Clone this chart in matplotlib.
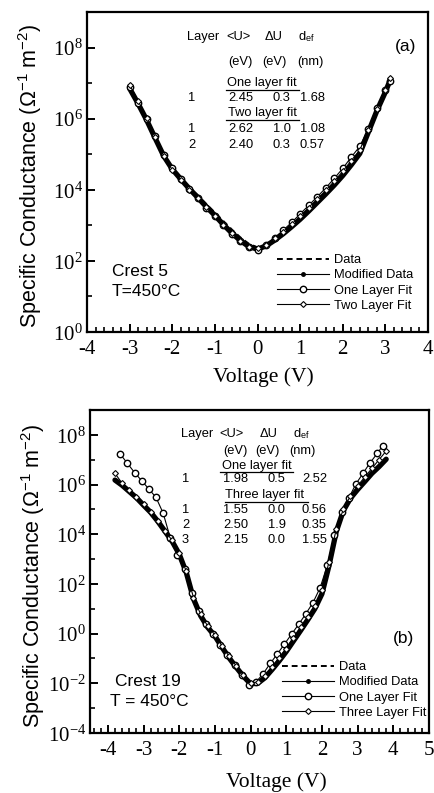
import numpy as np
import matplotlib
matplotlib.use("Agg")
import matplotlib.pyplot as plt
from matplotlib.lines import Line2D
from matplotlib.ticker import MultipleLocator, LogLocator, NullFormatter

plt.rcParams['font.family'] = ['Liberation Sans', 'DejaVu Sans']
plt.rcParams['mathtext.fontset'] = 'custom'
plt.rcParams['mathtext.rm'] = 'Liberation Serif'
plt.rcParams['mathtext.sf'] = 'Liberation Sans'
plt.rcParams['mathtext.it'] = 'Liberation Serif:italic'
plt.rcParams['axes.unicode_minus'] = False

# ---- panel (a): Crest 5, log10 of conductance
v_a = [-3.0, -2.8, -2.6, -2.4, -2.2, -2.0, -1.8, -1.6, -1.4, -1.2, -1.0, -0.8, -0.6, -0.4, -0.2, 0.0,
       0.2, 0.4, 0.6, 0.8, 1.0, 1.2, 1.4, 1.6, 1.8, 2.0, 2.2, 2.4, 2.6, 2.8, 3.0, 3.1]
mod_a = [6.85, 6.42, 5.96, 5.45, 4.95, 4.58, 4.30, 4.03, 3.78, 3.52, 3.28, 3.02, 2.78, 2.57, 2.40, 2.33,
         2.42, 2.58, 2.76, 2.96, 3.17, 3.40, 3.64, 3.88, 4.13, 4.40, 4.70, 5.02, 5.62, 6.22, 6.75, 7.05]
data_a = [6.90, 6.45, 5.98, 5.47, 4.98, 4.62, 4.34, 4.08, 3.84, 3.60, 3.36, 3.12, 2.88, 2.66, 2.48, 2.38,
          2.45, 2.60, 2.78, 2.98, 3.18, 3.40, 3.63, 3.87, 4.12, 4.40, 4.70, 5.03, 5.63, 6.22, 6.78, 7.08]
fit1_a = [6.88, 6.45, 6.00, 5.50, 4.98, 4.60, 4.30, 4.02, 3.76, 3.50, 3.25, 3.00, 2.76, 2.55, 2.38, 2.32,
          2.45, 2.65, 2.86, 3.08, 3.32, 3.56, 3.80, 4.05, 4.32, 4.60, 4.92, 5.22, 5.72, 6.30, 6.80, 7.05]
fit2_a = [6.95, 6.50, 6.02, 5.48, 4.95, 4.56, 4.28, 4.00, 3.76, 3.52, 3.27, 3.02, 2.78, 2.57, 2.40, 2.35,
          2.46, 2.63, 2.82, 3.03, 3.26, 3.50, 3.74, 3.98, 4.24, 4.52, 4.82, 5.12, 5.68, 6.27, 6.82, 7.15]

# ---- panel (b): Crest 19
v_b = [-3.8, -3.6, -3.4, -3.2, -3.0, -2.8, -2.6, -2.4, -2.2, -2.0, -1.8, -1.6, -1.4, -1.2, -1.0, -0.8,
       -0.6, -0.4, -0.2, 0.0, 0.2, 0.4, 0.6, 0.8, 1.0, 1.2, 1.4, 1.6, 1.8, 2.0, 2.2, 2.4, 2.6, 2.8,
       3.0, 3.2, 3.4, 3.6, 3.8]
mod_b = [6.18, 5.97, 5.72, 5.47, 5.17, 4.88, 4.52, 4.12, 3.72, 3.20, 2.45, 1.40, 0.72, 0.25, -0.10, -0.55,
         -0.98, -1.36, -1.72, -2.02, -2.00, -1.78, -1.45, -1.10, -0.72, -0.30, 0.12, 0.55, 1.00, 1.60,
         2.75, 4.10, 4.95, 5.45, 5.80, 6.12, 6.45, 6.72, 7.02]
data_b = [6.20, 5.98, 5.73, 5.48, 5.18, 4.89, 4.53, 4.13, 3.73, 3.22, 2.47, 1.42, 0.74, 0.27, -0.08, -0.53,
          -0.96, -1.34, -1.70, -2.00, -1.98, -1.76, -1.43, -1.08, -0.70, -0.28, 0.14, 0.57, 1.02, 1.62,
          2.77, 4.10, 4.95, 5.45, 5.80, 6.12, 6.45, 6.72, 7.02]
fit3_b = [6.45, 6.05, 5.78, 5.50, 5.20, 4.90, 4.55, 4.15, 3.75, 3.25, 2.50, 1.45, 0.78, 0.30, -0.05, -0.50,
          -0.92, -1.30, -1.68, -2.00, -1.95, -1.70, -1.35, -0.98, -0.60, -0.18, 0.25, 0.68, 1.12, 1.75,
          2.90, 4.20, 5.00, 5.55, 5.95, 6.30, 6.65, 7.00, 7.35]
v_b1 = [-3.65, -3.45, -3.25, -3.05, -2.85, -2.65, -2.45, -2.25, -2.05, -1.85, -1.65, -1.45, -1.25, -1.05,
        -0.85, -0.65, -0.45, -0.25, -0.05, 0.15, 0.35, 0.55, 0.75, 0.95, 1.15, 1.35, 1.55, 1.75, 1.95,
        2.15, 2.35, 2.55, 2.75, 2.95, 3.15, 3.35, 3.55, 3.7]
fit1_b = [7.22, 6.85, 6.48, 6.15, 5.82, 5.48, 4.85, 3.85, 3.15, 2.60, 1.65, 0.90, 0.40, 0.00, -0.45, -0.88,
          -1.28, -1.65, -2.05, -1.95, -1.62, -1.20, -0.82, -0.42, -0.02, 0.38, 0.80, 1.25, 1.85, 2.75,
          3.95, 4.90, 5.45, 6.02, 6.45, 6.88, 7.25, 7.56]

W, H = 435, 793
fig = plt.figure(figsize=(W / 100, H / 100), dpi=100)

box1 = (87, 12, 428, 332)
box2 = (90, 410, 429, 733)


def make_axes(box):
    l, t, r, b = box
    return fig.add_axes([l / W, 1 - b / H, (r - l) / W, (b - t) / H])


ax1 = make_axes(box1)
ax2 = make_axes(box2)

modkw = dict(color='black', lw=3.8, solid_capstyle='round')
circ = dict(color='black', lw=0.8, marker='o', ms=4.6, mfc='white', mec='black', mew=1.0)
diam = dict(color='black', lw=0.8, marker='D', ms=3.0, mfc='white', mec='black', mew=0.8)

g = lambda a: np.power(10.0, a)

ax1.plot(v_a, g(np.array(mod_a)), **modkw)
ax1.plot(v_a, g(np.array(data_a)), color='black', lw=1.4, ls=(0, (3, 2)))
ax1.plot(v_a, g(np.array(fit1_a)), **circ)
ax1.plot(v_a, g(np.array(fit2_a)), **diam)

ax2.plot(v_b, g(np.array(mod_b)), **modkw)
ax2.plot(v_b, g(np.array(data_b)), color='black', lw=1.4, ls=(0, (3, 2)))
ax2.plot(v_b1, g(np.array(fit1_b)), **circ)
ax2.plot(v_b, g(np.array(fit3_b)), **diam)


def style(ax, xlim, ylo, yhi, xticks):
    ax.set_yscale('log')
    ax.set_xlim(*xlim)
    ax.set_ylim(10.0 ** ylo, 10.0 ** yhi)
    ax.set_xticks(xticks)
    ax.set_xticklabels([str(t) for t in xticks], family='Liberation Serif', fontsize=15)
    ax.xaxis.set_minor_locator(MultipleLocator(0.2))
    yt = list(range(ylo, yhi, 2))
    ax.set_yticks([10.0 ** e for e in yt])
    ax.set_yticklabels([r'$10^{%d}$' % e for e in yt], fontsize=15)
    ax.yaxis.set_minor_locator(LogLocator(base=10, subs=(1.0,), numticks=30))
    ax.yaxis.set_minor_formatter(NullFormatter())
    ax.tick_params(which='major', direction='in', length=6, width=1.4, top=False, right=False)
    ax.tick_params(which='minor', direction='in', length=3.5, width=1.2, top=False, right=False)
    ax.tick_params(axis='x', pad=6)
    ax.tick_params(axis='y', pad=3)
    for s in ax.spines.values():
        s.set_linewidth(1.6)


style(ax1, (-4, 4), 0, 9, [-4, -3, -2, -1, 0, 1, 2, 3, 4])
style(ax2, (-4.5, 5), -4, 9, [-4, -3, -2, -1, 0, 1, 2, 3, 4, 5])

ylab = r'Specific Conductance ($\mathsf{\Omega^{-1}\ m^{-2}}$)'
fig.text(30 / W, 1 - 176 / H, ylab, rotation=90, ha='center', va='center', fontsize=15.5)
fig.text(33 / W, 1 - 576 / H, ylab, rotation=90, ha='center', va='center', fontsize=15.5)
fig.text(263 / W, 1 - 377 / H, 'Voltage (V)', ha='center', va='center', fontsize=15.5,
         family='Liberation Serif')
fig.text(276 / W, 1 - 782 / H, 'Voltage (V)', ha='center', va='center', fontsize=15.5,
         family='Liberation Serif')


def put(ax, box, x, y, s, size=9.3, **kw):
    l, t, r, b = box
    ax.text((x - l) / (r - l), (b - y) / (b - t), s, transform=ax.transAxes,
            ha='left', va='center', fontsize=size, **kw)


def uline(ax, box, x0, x1, y):
    l, t, r, b = box
    yy = (b - y) / (b - t)
    ax.add_line(Line2D([(x0 - l) / (r - l), (x1 - l) / (r - l)], [yy, yy],
                       transform=ax.transAxes, color='black', lw=0.9))


dlab = r'd$_{\mathsf{ef}}$'

# table (a)
for x, s in [(187, 'Layer'), (226, '<U>'), (265, 'ΔU'), (298, dlab)]:
    put(ax1, box1, x, 37, s)
for x, s in [(228, '(eV)'), (262, '(eV)'), (297, '(nm)')]:
    put(ax1, box1, x, 62, s)
put(ax1, box1, 227, 83, 'One layer fit')
uline(ax1, box1, 226, 299, 90)
put(ax1, box1, 228, 113, 'Two layer fit')
uline(ax1, box1, 226, 299, 120)
rows_a = [(98, '1', '2.45', '0.3', '1.68'), (129, '1', '2.62', '1.0', '1.08'), (145, '2', '2.40', '0.3', '0.57')]
for y, a, b, c, d in rows_a:
    put(ax1, box1, 188, y, a)
    put(ax1, box1, 228, y, b)
    put(ax1, box1, 273, y, c)
    put(ax1, box1, 300, y, d)

# table (b)
for x, s in [(181, 'Layer'), (219, '<U>'), (260, 'ΔU'), (293, dlab)]:
    put(ax2, box2, x, 434, s)
for x, s in [(223, '(eV)'), (255, '(eV)'), (289, '(nm)')]:
    put(ax2, box2, x, 451, s)
put(ax2, box2, 222, 466, 'One layer fit')
uline(ax2, box2, 220, 293, 472)
put(ax2, box2, 225, 495, 'Three layer fit')
uline(ax2, box2, 225, 308, 502)
rows_b = [(479, '1', '1.98', '0.5', '2.52'), (510, '1', '1.55', '0.0', '0.56'),
          (525, '2', '2.50', '1.9', '0.35'), (540, '3', '2.15', '0.0', '1.55')]
for y, a, b, c, d in rows_b:
    put(ax2, box2, 182, y, a)
    put(ax2, box2, 223, y, b)
    put(ax2, box2, 268, y, c)
    put(ax2, box2, 302, y, d)

put(ax1, box1, 395, 47, '(a)', size=12.5)
put(ax2, box2, 393, 639, '(b)', size=12.5)
put(ax1, box1, 112, 272, 'Crest 5', size=12.5)
put(ax1, box1, 112, 291, 'T=450°C', size=12.5)
put(ax2, box2, 115, 681, 'Crest 19', size=12.5)
put(ax2, box2, 110, 702, 'T = 450°C', size=12.5)


def handles(third):
    return [Line2D([], [], color='black', lw=1.4, ls=(0, (3, 2)), label='Data'),
            Line2D([], [], color='black', lw=0.8, marker='o', ms=2.5, label='Modified Data'),
            Line2D([], [], label='One Layer Fit', **circ),
            Line2D([], [], label=third, **diam)]


def legend(ax, box, x, y, third):
    l, t, r, b = box
    ax.legend(handles=handles(third), loc='upper left', frameon=False,
              bbox_to_anchor=((x - l) / (r - l), (b - y) / (b - t)), borderpad=0, borderaxespad=0,
              handlelength=4.0, handletextpad=0.4, labelspacing=0.25, fontsize=9.3, markerfirst=True)


legend(ax1, box1, 277, 254, 'Two Layer Fit')
legend(ax2, box2, 282, 661, 'Three Layer Fit')

fig.savefig('out.png', dpi=100)
